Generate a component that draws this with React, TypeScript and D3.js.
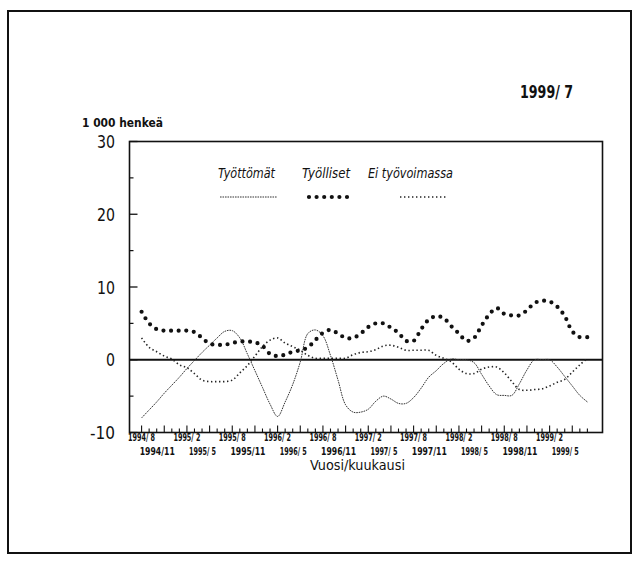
import React from 'react';
import * as d3 from 'd3';

const months = [
  '1994/8','1994/9','1994/10','1994/11','1994/12',
  '1995/1','1995/2','1995/3','1995/4','1995/5','1995/6','1995/7','1995/8','1995/9','1995/10','1995/11','1995/12',
  '1996/1','1996/2','1996/3','1996/4','1996/5','1996/6','1996/7','1996/8','1996/9','1996/10','1996/11','1996/12',
  '1997/1','1997/2','1997/3','1997/4','1997/5','1997/6','1997/7','1997/8','1997/9','1997/10','1997/11','1997/12',
  '1998/1','1998/2','1998/3','1998/4','1998/5','1998/6','1998/7','1998/8','1998/9','1998/10','1998/11','1998/12',
  '1999/1','1999/2','1999/3','1999/4','1999/5','1999/6','1999/7'
];

const topTickLabels = ['1994/ 8','1995/ 2','1995/ 8','1996/ 2','1996/ 8','1997/ 2','1997/ 8','1998/ 2','1998/ 8','1999/ 2'];
const bottomTickLabels = ['1994/11','1995/ 5','1995/11','1996/ 5','1996/11','1997/ 5','1997/11','1998/ 5','1998/11','1999/ 5'];
const topTickMonths = ['1994/8','1995/2','1995/8','1996/2','1996/8','1997/2','1997/8','1998/2','1998/8','1999/2'];
const bottomTickMonths = ['1994/11','1995/5','1995/11','1996/5','1996/11','1997/5','1997/11','1998/5','1998/11','1999/5'];

const yTicks = [-10, 0, 10, 20, 30];
const yMinorTicks = [-5, 5, 15, 25];

const seriesNames = ['Työttömät', 'Työlliset', 'Ei työvoimassa'];

const tyottomat = [
  -8.0, -6.9, -5.8, -4.6, -3.5, -2.4, -1.2, -0.1, 1.0, 2.0, 3.0, 3.9, 4.0, 3.0, 0.8, -1.5, -3.8, -6.1, -7.8, -5.8,
  -3.4, -0.3, 3.6, 4.1, 3.3, 0.6, -2.8, -6.2, -7.2, -7.2, -6.8, -5.7, -5.0, -5.4, -6.0, -6.0, -5.2, -3.9, -2.4, -1.5,
  -0.5, 0.1, 0.0, 0.0, -0.4, -2.0, -3.6, -4.8, -4.9, -4.9, -3.3, -1.4, 0.0, 0.0, 0.0, -1.0, -2.3, -3.6, -4.9, -5.8
];
const tyolliset = [
  6.6, 5.0, 4.2, 4.0, 4.0, 4.0, 4.0, 3.8, 3.0, 2.2, 2.06, 2.06, 2.3, 2.5, 2.5, 2.4, 1.9, 0.8, 0.5, 0.7,
  1.1, 1.3, 1.7, 2.7, 3.7, 4.1, 3.6, 3.0, 3.0, 3.6, 4.5, 5.0, 5.0, 4.4, 3.7, 2.6, 2.6, 4.2, 5.5, 6.0,
  5.7, 4.6, 3.6, 2.6, 3.0, 4.7, 6.2, 7.1, 6.3, 6.1, 6.1, 6.8, 7.8, 8.1, 8.0, 7.3, 6.0, 3.9, 3.1, 3.1
];
const eiTyovoimassa = [
  3.0, 1.7, 1.1, 0.5, 0.1, -0.7, -1.1, -1.9, -2.8, -3.0, -3.0, -3.0, -2.8, -1.8, -0.8, 0.5, 1.8, 2.7, 3.0, 2.3,
  1.8, 1.3, 0.6, 0.2, 0.2, 0.2, 0.2, 0.2, 0.7, 1.0, 1.1, 1.4, 1.9, 2.0, 1.7, 1.3, 1.3, 1.3, 1.3, 0.6,
  0.2, -0.3, -1.3, -1.9, -1.9, -1.3, -1.0, -1.0, -1.8, -3.0, -4.1, -4.2, -4.1, -4.0, -3.6, -3.1, -2.7, -1.7, -0.7, 0.2
];

const FONT = "'Liberation Sans Narrow', 'DejaVu Sans Condensed', 'Liberation Sans', Arial, sans-serif";

export default function App() {
  const left = 129.5, right = 602.5, top = 141.5, bottom = 432.5;
  const x = d3.scaleLinear().domain([-1.6, 61]).range([left, right]);
  const y = d3.scaleLinear().domain([-10, 30]).range([bottom, top]);
  const idx = (m: string) => months.indexOf(m);

  const line = d3.line<number>()
    .x((_, i) => x(i))
    .y((d) => y(d))
    .curve(d3.curveCatmullRom.alpha(0.5));

  const monthTicks = months.map((m, i) => ({ m, i }));

  return (
    <svg width={641} height={563} style={{ position: 'absolute', left: 0, top: 0, background: '#fff' }}
      fontFamily={FONT}>
      <rect x={0} y={0} width={641} height={563} fill="#fff" />
      {/* outer frame */}
      <rect x={8} y={11} width={623} height={542} fill="none" stroke="#111" strokeWidth={2} />

      {/* title texts */}
      <text x={520} y={98} fontSize={18} fontWeight="bold" textLength={53} lengthAdjust="spacingAndGlyphs" fill="#111">1999/ 7</text>
      <text x={82} y={127} fontSize={13} fontWeight="bold" textLength={81} lengthAdjust="spacingAndGlyphs" fill="#111">1 000 henkeä</text>

      {/* plot box */}
      <rect x={left} y={top} width={right - left} height={bottom - top} fill="none" stroke="#111" strokeWidth={1.6} />

      {/* y ticks */}
      {yTicks.map((t) => (
        <g key={'y' + t}>
          <line x1={left} x2={left + 8} y1={y(t)} y2={y(t)} stroke="#111" strokeWidth={1.3} />
          <text x={115} y={y(t) + 1.5} fontSize={18} textAnchor="end" dominantBaseline="middle" fill="#111"
            textLength={t === -10 ? 25 : t === 0 ? 9 : 18} lengthAdjust="spacingAndGlyphs">{t}</text>
        </g>
      ))}
      {yMinorTicks.map((t) => (
        <line key={'ym' + t} x1={left} x2={left + 4} y1={y(t)} y2={y(t)} stroke="#111" strokeWidth={1.2} />
      ))}

      {/* x ticks */}
      {monthTicks.map(({ m, i }) => (
        <line key={'xt' + m} x1={x(i)} x2={x(i)} y1={bottom} y2={bottom - (i % 3 === 0 ? 7 : 4)} stroke="#111" strokeWidth={1.1} />
      ))}
      {topTickMonths.map((m, k) => (
        <text key={'tl' + m} x={x(idx(m))} y={441} fontSize={10} fontWeight="bold" textAnchor="middle"
          textLength={27} lengthAdjust="spacingAndGlyphs" fill="#111">{topTickLabels[k]}</text>
      ))}
      {bottomTickMonths.map((m, k) => (
        <text key={'bl' + m} x={x(idx(m)) - 7} y={455} fontSize={10} fontWeight="bold" textAnchor="middle"
          textLength={bottomTickLabels[k].endsWith('11') ? 35 : 27} lengthAdjust="spacingAndGlyphs" fill="#111">{bottomTickLabels[k]}</text>
      ))}
      <text x={310} y={470} fontSize={14} textLength={95} lengthAdjust="spacingAndGlyphs" fill="#111">Vuosi/kuukausi</text>

      {/* zero line */}
      <line x1={left} x2={right} y1={y(0)} y2={y(0)} stroke="#111" strokeWidth={2} />

      {/* series */}
      <path d={line(tyottomat) || ''} fill="none" stroke="#333" strokeWidth={1} strokeDasharray="1.6 0.9" />
      <path d={line(eiTyovoimassa) || ''} fill="none" stroke="#222" strokeWidth={1.6} strokeDasharray="1.4 2.6" />
      <path d={line(tyolliset) || ''} fill="none" stroke="#111" strokeWidth={4.2} strokeLinecap="round" strokeDasharray="0 7.6" />

      {/* legend */}
      <text x={218} y={178} fontSize={14} fontStyle="italic" textLength={57} lengthAdjust="spacingAndGlyphs" fill="#111">{seriesNames[0]}</text>
      <text x={302} y={178} fontSize={14} fontStyle="italic" textLength={48} lengthAdjust="spacingAndGlyphs" fill="#111">{seriesNames[1]}</text>
      <text x={368} y={178} fontSize={14} fontStyle="italic" textLength={85} lengthAdjust="spacingAndGlyphs" fill="#111">{seriesNames[2]}</text>
      <line x1={220} x2={277} y1={197} y2={197} stroke="#333" strokeWidth={1} strokeDasharray="1.6 0.9" />
      <line x1={309} x2={354} y1={197} y2={197} stroke="#111" strokeWidth={4.2} strokeLinecap="round" strokeDasharray="0 7.6" />
      <line x1={400} x2={447} y1={197} y2={197} stroke="#222" strokeWidth={1.6} strokeDasharray="1.4 2.6" />
    </svg>
  );
}
